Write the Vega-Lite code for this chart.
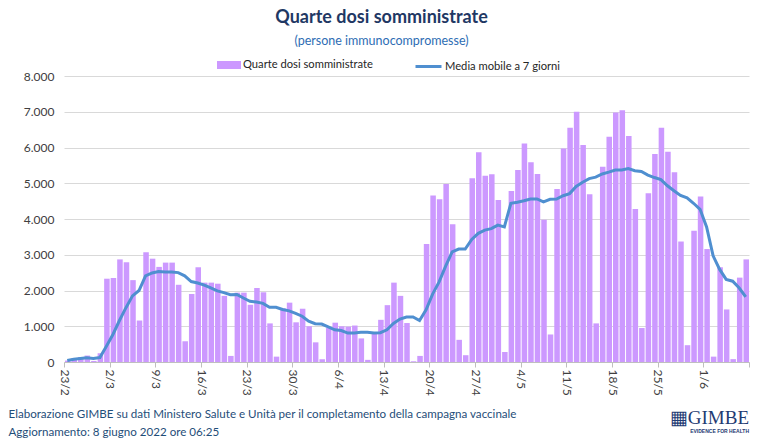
{
  "$schema": "https://vega.github.io/schema/vega-lite/v6.json",
  "padding": {"left": 8, "top": 8, "right": 0, "bottom": 0},
  "background": "white",
  "config": {
    "view": {"stroke": null},
    "font": "Lato",
    "concat": {"spacing": 0}
  },
  "title": {
    "text": "Quarte dosi somministrate",
    "subtitle": "(persone immunocompromesse)",
    "fontSize": 18,
    "fontWeight": "bold",
    "color": "#1F3864",
    "font": "Lato",
    "subtitleFont": "Lato",
    "subtitleFontSize": 12.5,
    "subtitleColor": "#2E6DB4",
    "anchor": "middle",
    "subtitlePadding": 8,
    "offset": 5
  },
  "vconcat": [
    {
      "width": 685,
      "height": 286,
      "title": {
        "text": "▦GIMBE",
        "subtitle": "EVIDENCE FOR HEALTH",
        "orient": "bottom",
        "anchor": "end",
        "frame": "group",
        "font": "Liberation Serif",
        "fontSize": 19,
        "fontWeight": "normal",
        "color": "#1F3B73",
        "subtitleFont": "Liberation Sans",
        "subtitleFontSize": 5,
        "subtitleFontWeight": "bold",
        "subtitleColor": "#1F3B73",
        "subtitlePadding": 1,
        "dy": -33
      },
      "data": {
        "values": [
          {"data": "2022-02-23", "dosi": 40, "media": 40},
          {"data": "2022-02-24", "dosi": 110, "media": 75},
          {"data": "2022-02-25", "dosi": 140, "media": 95},
          {"data": "2022-02-26", "dosi": 180, "media": 118},
          {"data": "2022-02-27", "dosi": 30, "media": 100},
          {"data": "2022-02-28", "dosi": 245, "media": 125},
          {"data": "2022-03-01", "dosi": 2330, "media": 440},
          {"data": "2022-03-02", "dosi": 2350, "media": 770},
          {"data": "2022-03-03", "dosi": 2870, "media": 1160},
          {"data": "2022-03-04", "dosi": 2790, "media": 1520},
          {"data": "2022-03-05", "dosi": 2290, "media": 1850},
          {"data": "2022-03-06", "dosi": 1160, "media": 2000},
          {"data": "2022-03-07", "dosi": 3070, "media": 2410},
          {"data": "2022-03-08", "dosi": 2890, "media": 2490},
          {"data": "2022-03-09", "dosi": 2660, "media": 2530},
          {"data": "2022-03-10", "dosi": 2780, "media": 2520},
          {"data": "2022-03-11", "dosi": 2780, "media": 2520},
          {"data": "2022-03-12", "dosi": 2160, "media": 2500},
          {"data": "2022-03-13", "dosi": 580, "media": 2410},
          {"data": "2022-03-14", "dosi": 1900, "media": 2250},
          {"data": "2022-03-15", "dosi": 2650, "media": 2210},
          {"data": "2022-03-16", "dosi": 2220, "media": 2150},
          {"data": "2022-03-17", "dosi": 2220, "media": 2070},
          {"data": "2022-03-18", "dosi": 2190, "media": 1990},
          {"data": "2022-03-19", "dosi": 1850, "media": 1940},
          {"data": "2022-03-20", "dosi": 170, "media": 1880},
          {"data": "2022-03-21", "dosi": 1940, "media": 1890},
          {"data": "2022-03-22", "dosi": 1940, "media": 1790},
          {"data": "2022-03-23", "dosi": 1600, "media": 1700},
          {"data": "2022-03-24", "dosi": 2070, "media": 1680},
          {"data": "2022-03-25", "dosi": 1950, "media": 1640},
          {"data": "2022-03-26", "dosi": 1080, "media": 1530},
          {"data": "2022-03-27", "dosi": 150, "media": 1530},
          {"data": "2022-03-28", "dosi": 1500, "media": 1470},
          {"data": "2022-03-29", "dosi": 1660, "media": 1430},
          {"data": "2022-03-30", "dosi": 1110, "media": 1360},
          {"data": "2022-03-31", "dosi": 1490, "media": 1280},
          {"data": "2022-04-01", "dosi": 1000, "media": 1140},
          {"data": "2022-04-02", "dosi": 550, "media": 1070},
          {"data": "2022-04-03", "dosi": 80, "media": 1060},
          {"data": "2022-04-04", "dosi": 950, "media": 980},
          {"data": "2022-04-05", "dosi": 1100, "media": 900},
          {"data": "2022-04-06", "dosi": 1000, "media": 880},
          {"data": "2022-04-07", "dosi": 990, "media": 810},
          {"data": "2022-04-08", "dosi": 1020, "media": 810},
          {"data": "2022-04-09", "dosi": 660, "media": 830},
          {"data": "2022-04-10", "dosi": 60, "media": 830},
          {"data": "2022-04-11", "dosi": 830, "media": 810},
          {"data": "2022-04-12", "dosi": 1180, "media": 820},
          {"data": "2022-04-13", "dosi": 1590, "media": 900},
          {"data": "2022-04-14", "dosi": 2220, "media": 1080},
          {"data": "2022-04-15", "dosi": 1850, "media": 1200},
          {"data": "2022-04-16", "dosi": 1090, "media": 1260},
          {"data": "2022-04-17", "dosi": 20, "media": 1260},
          {"data": "2022-04-18", "dosi": 170, "media": 1160},
          {"data": "2022-04-19", "dosi": 3300, "media": 1460},
          {"data": "2022-04-20", "dosi": 4660, "media": 1900},
          {"data": "2022-04-21", "dosi": 4550, "media": 2240},
          {"data": "2022-04-22", "dosi": 4980, "media": 2680},
          {"data": "2022-04-23", "dosi": 3850, "media": 3080},
          {"data": "2022-04-24", "dosi": 620, "media": 3160},
          {"data": "2022-04-25", "dosi": 190, "media": 3160},
          {"data": "2022-04-26", "dosi": 5140, "media": 3430},
          {"data": "2022-04-27", "dosi": 5870, "media": 3600},
          {"data": "2022-04-28", "dosi": 5210, "media": 3690},
          {"data": "2022-04-29", "dosi": 5250, "media": 3730},
          {"data": "2022-04-30", "dosi": 4530, "media": 3830},
          {"data": "2022-05-01", "dosi": 280, "media": 3780},
          {"data": "2022-05-02", "dosi": 4780, "media": 4440},
          {"data": "2022-05-03", "dosi": 5370, "media": 4470},
          {"data": "2022-05-04", "dosi": 6110, "media": 4510},
          {"data": "2022-05-05", "dosi": 5590, "media": 4560},
          {"data": "2022-05-06", "dosi": 5260, "media": 4560},
          {"data": "2022-05-07", "dosi": 3980, "media": 4480},
          {"data": "2022-05-08", "dosi": 770, "media": 4550},
          {"data": "2022-05-09", "dosi": 4840, "media": 4560},
          {"data": "2022-05-10", "dosi": 5970, "media": 4650},
          {"data": "2022-05-11", "dosi": 6550, "media": 4710},
          {"data": "2022-05-12", "dosi": 7000, "media": 4910},
          {"data": "2022-05-13", "dosi": 6070, "media": 5030},
          {"data": "2022-05-14", "dosi": 4690, "media": 5130},
          {"data": "2022-05-15", "dosi": 1080, "media": 5170},
          {"data": "2022-05-16", "dosi": 5460, "media": 5260},
          {"data": "2022-05-17", "dosi": 6300, "media": 5310},
          {"data": "2022-05-18", "dosi": 6980, "media": 5370},
          {"data": "2022-05-19", "dosi": 7040, "media": 5370},
          {"data": "2022-05-20", "dosi": 6320, "media": 5410},
          {"data": "2022-05-21", "dosi": 4280, "media": 5350},
          {"data": "2022-05-22", "dosi": 950, "media": 5330},
          {"data": "2022-05-23", "dosi": 4720, "media": 5230},
          {"data": "2022-05-24", "dosi": 5820, "media": 5160},
          {"data": "2022-05-25", "dosi": 6550, "media": 5100},
          {"data": "2022-05-26", "dosi": 5880, "media": 4930},
          {"data": "2022-05-27", "dosi": 5310, "media": 4790},
          {"data": "2022-05-28", "dosi": 3370, "media": 4660},
          {"data": "2022-05-29", "dosi": 470, "media": 4590},
          {"data": "2022-05-30", "dosi": 3670, "media": 4440},
          {"data": "2022-05-31", "dosi": 4630, "media": 4270},
          {"data": "2022-06-01", "dosi": 3160, "media": 3780},
          {"data": "2022-06-02", "dosi": 150, "media": 2970},
          {"data": "2022-06-03", "dosi": 2650, "media": 2590},
          {"data": "2022-06-04", "dosi": 1470, "media": 2310},
          {"data": "2022-06-05", "dosi": 80, "media": 2260},
          {"data": "2022-06-06", "dosi": 2360, "media": 2070},
          {"data": "2022-06-07", "dosi": 2870, "media": 1820}
        ]
      },
      "layer": [
        {
          "mark": {"type": "bar", "timeUnitBandSize": 0.83, "timeUnitBandPosition": 0.085},
          "encoding": {
            "x": {
              "field": "data",
              "timeUnit": "utcyearmonthdate",
              "type": "temporal",
              "scale": {
                "domain": [
                  {"year": 2022, "month": 2, "date": 23, "utc": true},
                  {"year": 2022, "month": 6, "date": 8, "utc": true}
                ]
              },
              "axis": {
                "values": [
                  {"year": 2022, "month": 2, "date": 23, "utc": true},
                  {"year": 2022, "month": 3, "date": 2, "utc": true},
                  {"year": 2022, "month": 3, "date": 9, "utc": true},
                  {"year": 2022, "month": 3, "date": 16, "utc": true},
                  {"year": 2022, "month": 3, "date": 23, "utc": true},
                  {"year": 2022, "month": 3, "date": 30, "utc": true},
                  {"year": 2022, "month": 4, "date": 6, "utc": true},
                  {"year": 2022, "month": 4, "date": 13, "utc": true},
                  {"year": 2022, "month": 4, "date": 20, "utc": true},
                  {"year": 2022, "month": 4, "date": 27, "utc": true},
                  {"year": 2022, "month": 5, "date": 4, "utc": true},
                  {"year": 2022, "month": 5, "date": 11, "utc": true},
                  {"year": 2022, "month": 5, "date": 18, "utc": true},
                  {"year": 2022, "month": 5, "date": 25, "utc": true},
                  {"year": 2022, "month": 6, "date": 1, "utc": true},
                  {"year": 2022, "month": 6, "date": 8, "utc": true}
                ],
                "labelExpr": "datum.value >= utc(2022, 5, 8) ? '' : utcFormat(datum.value, '%-d/%-m')",
                "labelAngle": 90,
                "labelFontSize": 12,
                "labelColor": "#404040",
                "labelPadding": 2,
                "labelFlush": false,
                "labelOverlap": false,
                "tickSize": 5,
                "tickColor": "#BFBFBF",
                "domainColor": "#BFBFBF",
                "grid": false,
                "title": [
                  "Elaborazione GIMBE su dati Ministero Salute e Unità per il completamento della campagna vaccinale",
                  "Aggiornamento: 8 giugno 2022 ore 06:25"
                ],
                "titleFont": "Lato",
                "titleFontSize": 11.6,
                "titleFontWeight": "normal",
                "titleColor": "#1F4E79",
                "titleAnchor": "start",
                "titleAlign": "left",
                "titleBaseline": "top",
                "titleLineHeight": 18,
                "titleX": -56,
                "titleY": 46
              }
            },
            "y": {
              "field": "dosi",
              "type": "quantitative",
              "scale": {"domain": [0, 8000], "nice": false},
              "axis": {
                "values": [0, 1000, 2000, 3000, 4000, 5000, 6000, 7000, 8000],
                "labelExpr": "replace(format(datum.value, ','), ',', '.')",
                "labelFontSize": 12,
                "labelColor": "#404040",
                "labelPadding": 10,
                "labelOverlap": false,
                "ticks": false,
                "domain": false,
                "gridColor": "#D9D9D9",
                "title": null
              }
            },
            "color": {
              "datum": "Quarte dosi somministrate",
              "type": "nominal",
              "scale": {"range": ["#CC99FF"]},
              "legend": {
                "title": null,
                "orient": "none",
                "legendX": 157,
                "legendY": -19,
                "symbolType": "M-1.5,-0.5H1.5V0.5H-1.5Z",
                "symbolSize": 256,
                "symbolStrokeWidth": 0,
                "labelOffset": 6,
                "labelFontSize": 11.2,
                "labelColor": "#262626"
              }
            }
          }
        },
        {
          "mark": {"type": "line", "strokeWidth": 3},
          "encoding": {
            "x": {
              "field": "data",
              "timeUnit": "utcyearmonthdate",
              "type": "temporal",
              "bandPosition": 0.5,
              "axis": {
                "values": [
                  {"year": 2022, "month": 2, "date": 23, "utc": true},
                  {"year": 2022, "month": 3, "date": 2, "utc": true},
                  {"year": 2022, "month": 3, "date": 9, "utc": true},
                  {"year": 2022, "month": 3, "date": 16, "utc": true},
                  {"year": 2022, "month": 3, "date": 23, "utc": true},
                  {"year": 2022, "month": 3, "date": 30, "utc": true},
                  {"year": 2022, "month": 4, "date": 6, "utc": true},
                  {"year": 2022, "month": 4, "date": 13, "utc": true},
                  {"year": 2022, "month": 4, "date": 20, "utc": true},
                  {"year": 2022, "month": 4, "date": 27, "utc": true},
                  {"year": 2022, "month": 5, "date": 4, "utc": true},
                  {"year": 2022, "month": 5, "date": 11, "utc": true},
                  {"year": 2022, "month": 5, "date": 18, "utc": true},
                  {"year": 2022, "month": 5, "date": 25, "utc": true},
                  {"year": 2022, "month": 6, "date": 1, "utc": true},
                  {"year": 2022, "month": 6, "date": 8, "utc": true}
                ],
                "labelExpr": "datum.value >= utc(2022, 5, 8) ? '' : utcFormat(datum.value, '%-d/%-m')",
                "labelAngle": 90,
                "labelFontSize": 12,
                "labelColor": "#404040",
                "labelPadding": 2,
                "labelFlush": false,
                "labelOverlap": false,
                "tickSize": 5,
                "tickColor": "#BFBFBF",
                "domainColor": "#BFBFBF",
                "grid": false,
                "title": [
                  "Elaborazione GIMBE su dati Ministero Salute e Unità per il completamento della campagna vaccinale",
                  "Aggiornamento: 8 giugno 2022 ore 06:25"
                ],
                "titleFont": "Lato",
                "titleFontSize": 11.6,
                "titleFontWeight": "normal",
                "titleColor": "#1F4E79",
                "titleAnchor": "start",
                "titleAlign": "left",
                "titleBaseline": "top",
                "titleLineHeight": 18,
                "titleX": -56,
                "titleY": 46
              }
            },
            "y": {
              "field": "media",
              "type": "quantitative",
              "axis": {
                "values": [0, 1000, 2000, 3000, 4000, 5000, 6000, 7000, 8000],
                "labelExpr": "replace(format(datum.value, ','), ',', '.')",
                "labelFontSize": 12,
                "labelColor": "#404040",
                "labelPadding": 10,
                "labelOverlap": false,
                "ticks": false,
                "domain": false,
                "gridColor": "#D9D9D9",
                "title": null
              }
            },
            "color": {
              "datum": "Media mobile a 7 giorni",
              "type": "nominal",
              "scale": {"range": ["#4F8FD0"]},
              "legend": {
                "title": null,
                "orient": "none",
                "legendX": 350,
                "legendY": -24,
                "symbolType": "stroke",
                "symbolSize": 676,
                "symbolStrokeWidth": 3,
                "labelOffset": 2,
                "labelFontSize": 11.2,
                "labelColor": "#262626"
              }
            }
          }
        }
      ],
      "resolve": {"scale": {"color": "independent"}}
    }
  ]
}
